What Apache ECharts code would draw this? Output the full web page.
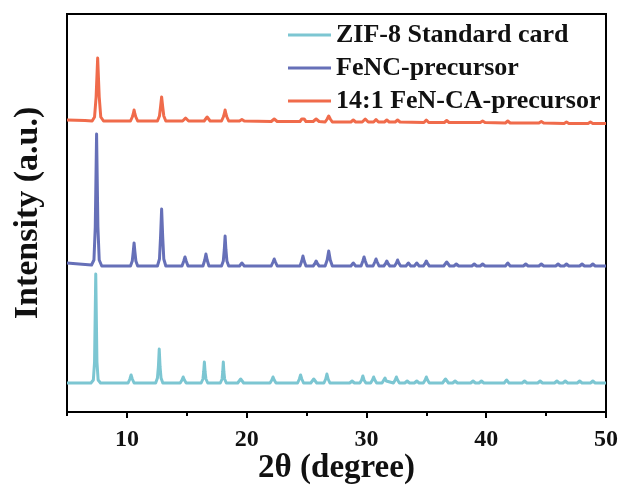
<!DOCTYPE html>
<html>
<head>
<meta charset="utf-8">
<script src="https://cdn.jsdelivr.net/npm/echarts@6/dist/echarts.min.js"></script>
<style>
html,body{margin:0;padding:0;background:#fff;}
#chart{width:620px;height:487px;}
</style>
</head>
<body>
<div id="chart"></div>
<script>
var seriesNames = ['ZIF-8 Standard card', 'FeNC-precursor', '14:1 FeN-CA-precursor'];
var xTickLabels = [10, 20, 30, 40, 50];
var xMinorTicks = [5, 15, 25, 35, 45];

var zifData = [
[5,29],
[7.0,29],[7.2,32],[7.3,50],[7.4,138],[7.5,50],[7.6,32],[7.8,29],
[10.1,29],[10.25,33],[10.35,37],[10.45,33],[10.6,29],
[12.4,29],[12.55,34],[12.63,45],[12.7,63],[12.77,45],[12.85,34],[13.0,29],
[14.45,29],[14.6,32],[14.7,35],[14.8,32],[14.95,29],
[16.2,29],[16.35,33],[16.41,40],[16.47,50],[16.53,40],[16.6,33],[16.75,29],
[17.8,29],[17.95,33],[18.0,40],[18.05,50],[18.1,40],[18.16,33],[18.3,29],
[19.25,29],[19.4,31],[19.5,33],[19.6,31],[19.75,29],
[21.95,29],[22.1,32],[22.2,35],[22.3,32],[22.45,29],
[24.25,29],[24.4,33],[24.5,37],[24.6,33],[24.75,29],
[25.35,29],[25.5,31],[25.6,33],[25.7,31],[25.85,29],
[26.45,29],[26.6,33],[26.7,38],[26.8,33],[26.95,29],
[28.6,29],[28.8,31],[29.0,29],
[29.45,29],[29.6,32],[29.7,36],[29.8,32],[29.95,29],
[30.35,29],[30.5,32],[30.6,35],[30.7,32],[30.85,29],
[31.3,29],[31.45,31],[31.55,34],[31.65,31],[31.8,29],
[32.25,29],[32.4,32],[32.5,35],[32.6,32],[32.75,29],
[33.2,29],[33.4,31],[33.6,29],
[34.0,29],[34.2,31],[34.4,29],
[34.75,29],[34.9,32],[35.0,35],[35.1,32],[35.25,29],
[36.35,29],[36.5,31],[36.6,33],[36.7,31],[36.85,29],
[37.2,29],[37.4,31],[37.6,29],
[38.7,29],[38.9,31],[39.1,29],
[39.4,29],[39.6,31],[39.8,29],
[41.5,29],[41.7,32],[41.9,29],
[43.0,29],[43.2,31],[43.4,29],
[44.3,29],[44.5,31],[44.7,29],
[45.7,29],[45.9,31],[46.1,29],
[46.4,29],[46.6,31],[46.8,29],
[47.6,29],[47.8,31],[48.0,29],
[48.7,29],[48.9,31],[49.1,29],
[50,29]
];

var fencData = [
[5,149],[6,148],
[7.05,147],[7.25,152],[7.36,185],[7.47,278],[7.58,185],[7.69,152],[7.9,146],
[10.3,146],[10.45,151],[10.53,160],[10.6,169],[10.67,160],[10.75,151],[10.9,146],
[12.55,146],[12.72,153],[12.81,175],[12.9,203],[12.99,175],[13.08,153],[13.25,146],
[14.6,146],[14.75,151],[14.85,155],[14.95,151],[15.1,146],
[16.35,146],[16.5,152],[16.6,158],[16.7,152],[16.85,146],
[17.9,146],[18.05,151],[18.13,162],[18.2,176],[18.27,162],[18.35,151],[18.5,146],
[19.4,146],[19.6,149],[19.8,146],
[22.05,146],[22.2,150],[22.3,153],[22.4,150],[22.55,146],
[24.45,146],[24.6,151],[24.7,156],[24.8,151],[24.95,146],
[25.55,146],[25.7,148.5],[25.8,151],[25.9,148.5],[26.05,146],
[26.55,146],[26.72,152],[26.85,161],[26.98,152],[27.15,146],
[28.7,146],[28.9,149],[29.1,146],
[29.55,146],[29.7,151],[29.8,155],[29.9,151],[30.05,146],
[30.55,146],[30.7,150],[30.8,153],[30.9,150],[31.05,146],
[31.45,146],[31.6,148.5],[31.7,151],[31.8,148.5],[31.95,146],
[32.35,146],[32.5,149],[32.6,152],[32.7,149],[32.85,146],
[33.3,146],[33.5,149],[33.7,146],
[34.0,146],[34.2,149],[34.4,146],
[34.75,146],[34.9,148.5],[35.0,151],[35.1,148.5],[35.25,146],
[36.45,146],[36.6,148],[36.7,150],[36.8,148],[36.95,146],
[37.3,146],[37.5,148],[37.7,146],
[38.8,146],[39.0,148],[39.2,146],
[39.5,146],[39.7,148],[39.9,146],
[41.6,146],[41.8,149],[42.0,146],
[43.1,146],[43.3,148],[43.5,146],
[44.4,146],[44.6,148],[44.8,146],
[45.8,146],[46.0,148],[46.2,146],
[46.5,146],[46.7,148],[46.9,146],
[47.8,146],[48.0,148],[48.2,146],
[48.7,146],[48.9,148],[49.1,146],
[50,146]
];

var fencaData = [
[5,292],[6.5,291.5],
[7.1,291],[7.3,295],[7.43,315],[7.56,354],[7.69,315],[7.82,295],[8.05,291],
[10.3,291],[10.45,295],[10.53,298],[10.6,302],[10.67,298],[10.75,295],[10.9,291],
[12.55,291],[12.72,296],[12.81,305],[12.9,315],[12.99,305],[13.08,296],[13.25,291],
[14.65,291],[14.8,292.5],[14.9,294],[15.0,292.5],[15.15,291],
[16.45,291],[16.6,293],[16.7,295],[16.8,293],[16.95,291],
[17.9,291],[18.05,295],[18.13,298],[18.2,302],[18.27,298],[18.35,295],[18.5,291],
[19.4,291],[19.6,292.5],[19.8,291],
[22.05,290.5],[22.2,292],[22.3,293],[22.4,292],[22.55,290.5],
[24.45,290.5],[24.6,293],[24.7,295],[24.8,293],[24.95,290.5],
[25.55,290.5],[25.7,292],[25.8,293],[25.9,292],[26.05,290.5],
[26.55,290],[26.72,293],[26.85,296],[26.98,293],[27.15,290],
[28.7,290],[28.9,292],[29.1,290],
[29.65,290],[29.8,292],[29.9,293],[30.0,292],[30.15,290],
[30.6,290],[30.8,292.5],[31.0,290],
[31.5,290],[31.7,292],[31.9,290],
[32.4,290],[32.6,292],[32.8,290],
[34.8,289.5],[35.0,292],[35.2,289.5],
[36.5,289.5],[36.7,291.5],[36.9,289.5],
[39.5,289.5],[39.7,291],[39.9,289.5],
[41.6,289],[41.8,291],[42.0,289],
[44.4,289],[44.6,290.5],[44.8,289],
[46.5,288.5],[46.7,290],[46.9,288.5],
[48.5,288.5],[48.7,290],[48.9,288.5],
[50,288.5]
];

var colors = ['#7cc6d2', '#6670b8', '#f06b4b'];
var serifFont = '"Liberation Serif", "Times New Roman", serif';

var chart = echarts.init(document.getElementById('chart'), null, {renderer: 'canvas'});
var allData = [zifData, fencData, fencaData];
var series = seriesNames.map(function (n, i) {
  return {
    name: n,
    type: 'line',
    data: allData[i],
    showSymbol: false,
    symbol: 'none',
    smooth: false,
    lineStyle: {color: colors[i], width: 3, join: 'round'},
    itemStyle: {color: colors[i]},
    animation: false
  };
});

chart.setOption({
  animation: false,
  backgroundColor: '#fff',
  grid: {
    left: 67, right: 14, top: 14, bottom: 75,
    outerBoundsMode: 'none',
    containLabel: false,
    show: true, borderColor: '#000', borderWidth: 2, backgroundColor: 'transparent'
  },
  legend: {
    orient: 'vertical',
    left: 283,
    top: 17,
    itemWidth: 43,
    itemHeight: 3,
    itemGap: 7,
    icon: 'rect',
    data: seriesNames,
    textStyle: {fontFamily: serifFont, fontWeight: 'bold', fontSize: 26, color: '#111'}
  },
  xAxis: [{
    type: 'value',
    min: 5, max: 50,
    name: '2θ (degree)',
    nameLocation: 'middle',
    nameGap: 40,
    nameMoveOverlap: false,
    nameTextStyle: {fontFamily: serifFont, fontWeight: 'bold', fontSize: 33, color: '#111'},
    axisLine: {show: true, onZero: false, lineStyle: {color: '#000', width: 2}},
    axisTick: {show: true, inside: false, length: 6, lineStyle: {color: '#000', width: 2}, customValues: xTickLabels},
    axisLabel: {show: true, margin: 16, fontFamily: serifFont, fontWeight: 'bold', fontSize: 24, color: '#111', customValues: xTickLabels},
    splitLine: {show: false}
  }, {
    type: 'value',
    min: 5, max: 50,
    position: 'bottom',
    gridIndex: 0,
    axisLine: {show: false},
    axisTick: {show: true, inside: false, length: 4, lineStyle: {color: '#000', width: 2}, customValues: xMinorTicks},
    axisLabel: {show: false},
    splitLine: {show: false}
  }],
  yAxis: {
    type: 'value',
    min: 0, max: 398,
    name: 'Intensity (a.u.)',
    nameLocation: 'middle',
    nameGap: 22,
    nameTextStyle: {fontFamily: serifFont, fontWeight: 'bold', fontSize: 34, color: '#111'},
    axisLine: {show: true, lineStyle: {color: '#000', width: 2}},
    axisTick: {show: false},
    axisLabel: {show: false},
    splitLine: {show: false}
  },
  series: series
});
</script>
</body>
</html>
